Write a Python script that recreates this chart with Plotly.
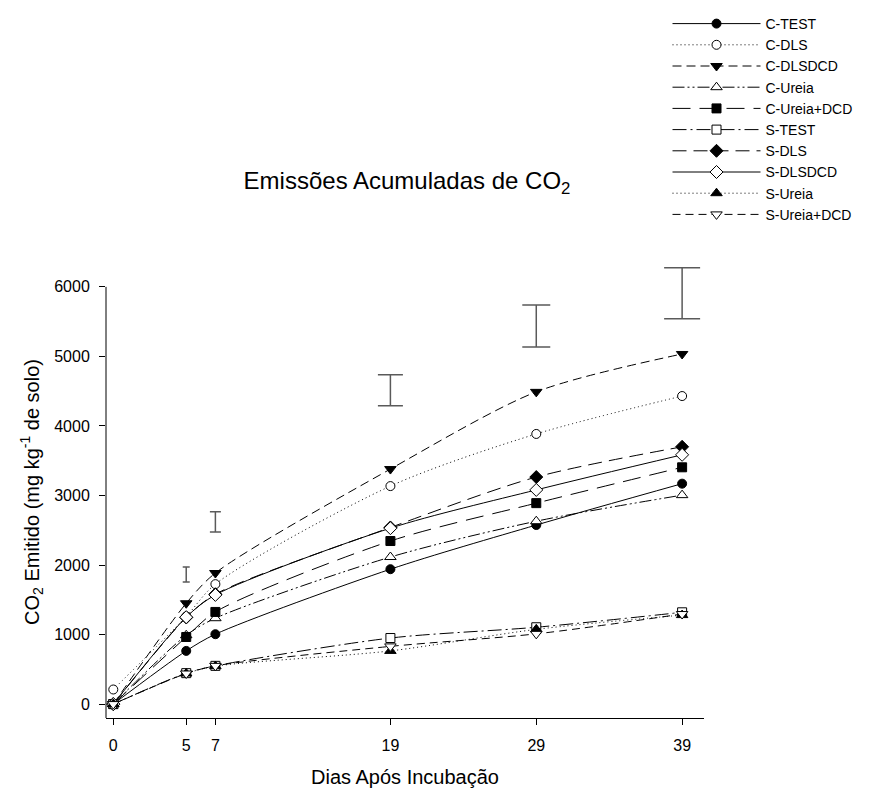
import plotly.graph_objects as go

days = [0, 5, 7, 19, 29, 39]

series_names = ["C-TEST", "C-DLS", "C-DLSDCD", "C-Ureia", "C-Ureia+DCD",
                "S-TEST", "S-DLS", "S-DLSDCD", "S-Ureia", "S-Ureia+DCD"]

c_test = [0, 765, 1005, 1940, 2575, 3170]
c_dls = [210, 1260, 1725, 3135, 3885, 4430]
c_dlsdcd = [0, 1450, 1885, 3380, 4490, 5035]
c_ureia = [0, 990, 1235, 2115, 2630, 3005]
c_ureia_dcd = [0, 965, 1325, 2345, 2890, 3405]
s_test = [0, 445, 550, 950, 1105, 1320]
s_dls = [0, 1245, 1580, 2540, 3265, 3700]
s_dlsdcd = [0, 1250, 1570, 2530, 3080, 3585]
s_ureia = [0, 440, 545, 765, 1075, 1280]
s_ureia_dcd = [0, 440, 550, 830, 1010, 1295]

series_values = [c_test, c_dls, c_dlsdcd, c_ureia, c_ureia_dcd,
                 s_test, s_dls, s_dlsdcd, s_ureia, s_ureia_dcd]

# LSD bars (lower and upper ends)
lsd_days = [5, 7, 19, 29, 39]
lsd_low = [1755, 2475, 4290, 5135, 5540]
lsd_high = [1970, 2765, 4735, 5740, 6275]

x_ticks = [0, 5, 7, 19, 29, 39]
y_ticks = [0, 1000, 2000, 3000, 4000, 5000, 6000]
y_min, y_axis_top, y_view_top = -200, 6000, 6300

FONT = "Arial, Liberation Sans, sans-serif"

styles = [
    dict(symbol="circle", fill="black", dash="solid"),
    dict(symbol="circle", fill="white", dash="1px,3px"),
    dict(symbol="triangle-down", fill="black", dash="9px,5px"),
    dict(symbol="triangle-up", fill="white", dash="12px,3px,2px,3px,2px,3px"),
    dict(symbol="square", fill="black", dash="18px,9px"),
    dict(symbol="square", fill="white", dash="14px,4px,2px,4px"),
    dict(symbol="diamond", fill="black", dash="14px,7px"),
    dict(symbol="diamond", fill="white", dash="solid"),
    dict(symbol="triangle-up", fill="black", dash="1px,3px"),
    dict(symbol="triangle-down", fill="white", dash="8px,5px"),
]

fig = go.Figure()

for name, vals, st in zip(series_names, series_values, styles):
    size = 9 if st["symbol"] in ("circle", "square") else 10
    fig.add_trace(go.Scatter(
        x=days, y=vals, name=name, mode="lines+markers",
        line=dict(color="black", width=1, dash=st["dash"], shape="spline", smoothing=0.8),
        marker=dict(symbol=st["symbol"], size=size, color=st["fill"],
                    line=dict(color="black", width=1)),
    ))

cap_widths = [3.5, 5.5, 12.5, 14, 18]
for d, lo, hi, w in zip(lsd_days, lsd_low, lsd_high, cap_widths):
    fig.add_trace(go.Scatter(
        x=[d], y=[(lo + hi) / 2], mode="markers", showlegend=False,
        marker=dict(size=0.1, color="rgba(0,0,0,0)"),
        error_y=dict(type="data", symmetric=True, array=[(hi - lo) / 2],
                     color="#5a5a5a", thickness=1.5, width=w),
        hoverinfo="skip",
    ))

# left axis line that stops at the top tick (6000)
fig.add_shape(type="line", xref="paper", yref="y", x0=0, x1=0,
              y0=y_min, y1=y_axis_top, line=dict(color="black", width=1))

fig.update_layout(
    width=877, height=789,
    margin=dict(l=98, r=181, t=258, b=79, autoexpand=False),
    paper_bgcolor="white", plot_bgcolor="white",
    font=dict(family=FONT, size=16, color="black"),
    title=dict(text="Emissões Acumuladas de CO<sub>2</sub>",
               font=dict(family=FONT, size=24, color="black"),
               x=0.455, xref="container", xanchor="center",
               y=1 - 173 / 789, yref="container", yanchor="middle"),
    legend=dict(x=0.752, xref="container", xanchor="left",
                y=1 + 8 / 789, yref="container", yanchor="top",
                font=dict(family=FONT, size=14, color="black"),
                bgcolor="rgba(0,0,0,0)", borderwidth=0,
                itemwidth=88, tracegroupgap=0),
    xaxis=dict(range=[-0.5, 40.5], tickvals=x_ticks, ticktext=[str(t) for t in x_ticks],
               showgrid=False, zeroline=False, showline=True, linecolor="black",
               linewidth=1, ticks="outside", ticklen=6, tickcolor="black",
               tickfont=dict(size=16), ticklabelstandoff=7,
               title=dict(text="Dias Após Incubação", font=dict(size=20), standoff=16)),
    yaxis=dict(range=[y_min, y_view_top], tickvals=y_ticks, ticktext=[str(t) for t in y_ticks],
               showgrid=False, zeroline=False, showline=False,
               ticks="outside", ticklen=6, tickcolor="black",
               tickfont=dict(size=16), ticklabelstandoff=6,
               title=dict(text="CO<sub>2</sub> Emitido (mg kg<sup>-1</sup> de solo)",
                          font=dict(size=20), standoff=9)),
)

fig.write_html("out.html")
